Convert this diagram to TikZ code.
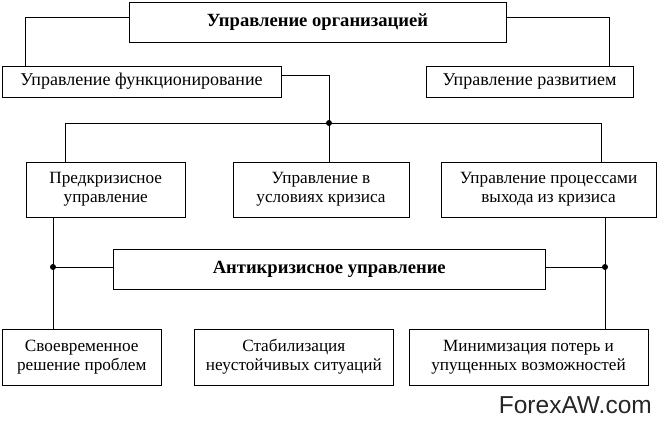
\documentclass[tikz,border=0pt]{standalone}
\usepackage{fontspec}
\setmainfont{Liberation Serif}
\newfontfamily\wmfont{Liberation Sans}
\usetikzlibrary{calc}
\tikzset{
  box/.style={draw, line width=1pt, inner sep=0pt, align=center},
  conn/.style={line width=1pt},
  jdot/.style={circle, fill, inner sep=0pt, minimum size=6pt},
  tbold/.style={font=\fontsize{18.6}{21}\selectfont\bfseries},
  tmid/.style={font=\fontsize{18}{21}\selectfont},
  tsmall/.style={font=\fontsize{17.2}{19}\selectfont},
}
\begin{document}
\begin{tikzpicture}[x=1pt,y=-1pt]
\useasboundingbox (0,0) rectangle (658,424);
% boxes
\node[box,tbold,minimum width=377pt,minimum height=40pt] (top) at (317.5,22) {Управление организацией};
\node[box,tmid,minimum width=279pt,minimum height=31pt] (func) at (141.5,81.5) {Управление функционирование};
\node[box,tmid,minimum width=207pt,minimum height=31pt] (dev) at (529.5,81.5) {Управление развитием};
\node[box,tsmall,minimum width=159.5pt,minimum height=55pt] (pre) at (105.75,189.5) {Предкризисное\\управление};
\node[box,tsmall,minimum width=176pt,minimum height=55pt] (cri) at (321,189.5) {Управление в\\условиях кризиса};
\node[box,tsmall,minimum width=215pt,minimum height=55pt] (exit) at (548.5,189.5) {Управление процессами\\выхода из кризиса};
\node[box,tbold,minimum width=432.5pt,minimum height=40pt] (anti) at (329.25,269) {Антикризисное управление};
\node[box,tsmall,minimum width=159.5pt,minimum height=56pt] (tim) at (81.75,357) {Своевременное\\решение проблем};
\node[box,tsmall,minimum width=199.6pt,minimum height=56pt] (stab) at (293.8,357) {Стабилизация\\неустойчивых ситуаций};
\node[box,tsmall,minimum width=239pt,minimum height=56pt] (mini) at (528.5,357) {Минимизация потерь и\\упущенных возможностей};
% junctions
\node[jdot] (jtop) at (329,123) {};
\node[jdot] (jl) at (53,267) {};
\node[jdot] (jr) at (605,267) {};
\coordinate (busl) at (65,123);
\coordinate (busr) at (601,123);
% connectors
\draw[conn] ([yshift=5pt]top.west) -| (func.north -| 25,0);
\draw[conn] ([yshift=5pt]top.east) -| (dev.north -| 609,0);
\draw[conn] ([yshift=6.5pt]func.east) -| (jtop.center);
\draw[conn] (busl) -- (busr);
\draw[conn] (busl) -- (busl |- pre.north);
\draw[conn] (jtop.center) -- (jtop |- cri.north);
\draw[conn] (busr) -- (busr |- exit.north);
\draw[conn] (pre.south -| jl) -- (tim.north -| jl);
\draw[conn] (exit.south -| jr) -- (mini.north -| jr);
\draw[conn] (jl.center) -- (jl -| anti.west);
\draw[conn] (jr.center) -- (jr -| anti.east);
% watermark
\node[font=\wmfont\fontsize{24.5}{28}\selectfont, text=black!85, anchor=base east, inner sep=0pt] (wm) at (652,413) {ForexAW.com};
\end{tikzpicture}
\end{document}
